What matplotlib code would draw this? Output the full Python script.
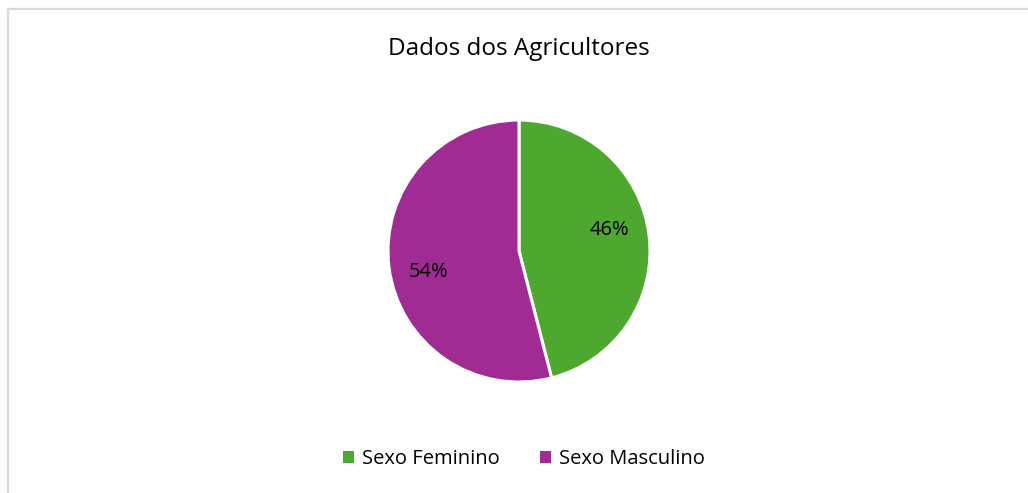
import matplotlib
matplotlib.use("Agg")
import numpy as np
import matplotlib.pyplot as plt
from matplotlib.lines import Line2D
from matplotlib.patches import Patch

labels = ["Sexo Feminino", "Sexo Masculino"]
values = [46, 54]
colors = ["#4EA72E", "#A02B93"]
title = "Dados dos Agricultores"

plt.rcParams["font.family"] = ["Open Sans", "DejaVu Sans"]

W, H = 1028, 493
fig = plt.figure(figsize=(W / 100, H / 100), dpi=100)
fig.patch.set_facecolor("white")

# chart frame (only top and left are visible in the crop)
fig.add_artist(Line2D([7.5 / W, 7.5 / W], [0, 1 - 8.5 / H], color="#D9D9D9", lw=1.6))
fig.add_artist(Line2D([7.5 / W, 1], [1 - 8.5 / H, 1 - 8.5 / H], color="#D9D9D9", lw=1.6))

fig.text(519 / W, 1 - 49 / H, title, ha="center", va="center", fontsize=17.5, color="#000000")

cx, cy, r = 519, 251, 131
ax = fig.add_axes([(cx - r) / W, 1 - (cy + r) / H, 2 * r / W, 2 * r / H])
wedges, texts, autotexts = ax.pie(values, colors=colors, startangle=90, counterclock=False,
                                  autopct="%1.0f%%", pctdistance=0.7,
                                  wedgeprops=dict(edgecolor="white", linewidth=2.2),
                                  textprops=dict(fontsize=14.5, color="#000000"))
# place percent labels slightly counter-clockwise of the slice middle, like the original
for w, t in zip(wedges, autotexts):
    mid = np.deg2rad((w.theta1 + w.theta2) / 2 + 6)
    t.set_position((0.71 * np.cos(mid), 0.71 * np.sin(mid)))
ax.set_xlim(-1, 1)
ax.set_ylim(-1, 1)
ax.set_aspect("equal")
ax.axis("off")

handles = [Patch(facecolor=c, edgecolor="none") for c in colors]
fig.legend(handles, labels, loc="center", bbox_to_anchor=(524 / W, 1 - 459 / H), ncol=2,
           frameon=False, fontsize=14.5, handlelength=0.55, handleheight=0.55,
           handletextpad=0.4, columnspacing=2.0)

fig.savefig("out.png", dpi=100, facecolor="white")
